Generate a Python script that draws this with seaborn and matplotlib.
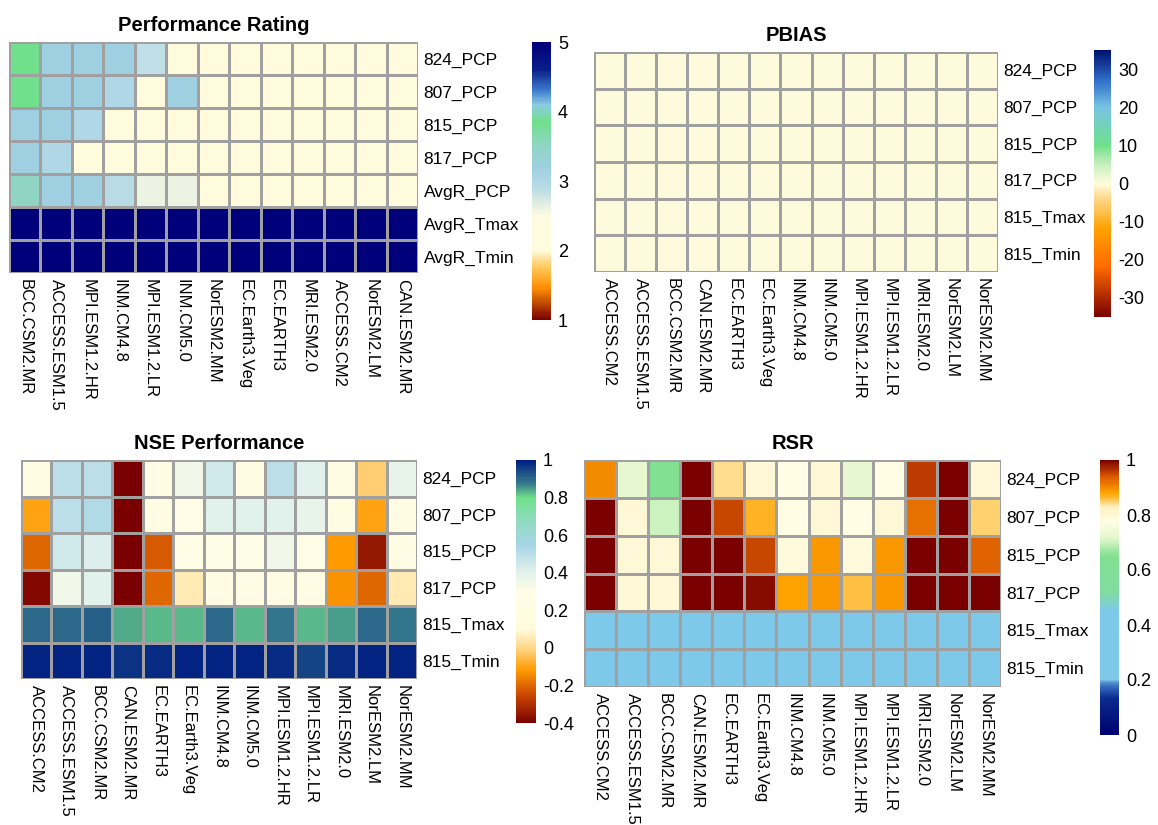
import numpy as np
import pandas as pd
import matplotlib
matplotlib.use('Agg')
import matplotlib.pyplot as plt
from matplotlib.colors import LinearSegmentedColormap
import seaborn as sns

# ---- data ----
rating_models = ['BCC.CSM2.MR', 'ACCESS.ESM1.5', 'MPI.ESM1.2.HR', 'INM.CM4.8', 'MPI.ESM1.2.LR',
                 'INM.CM5.0', 'NorESM2.MM', 'EC.Earth3.Veg', 'EC.EARTH3', 'MRI.ESM2.0',
                 'ACCESS.CM2', 'NorESM2.LM', 'CAN.ESM2.MR']
rating_rows = ['824_PCP', '807_PCP', '815_PCP', '817_PCP', 'AvgR_PCP', 'AvgR_Tmax', 'AvgR_Tmin']
rating_824 = [3.85, 3.2, 3.2, 3.2, 2.85, 2, 2, 2, 2, 2, 2, 2, 2]
rating_807 = [3.85, 3.2, 3.2, 3.0, 2, 3.2, 2, 2, 2, 2, 2, 2, 2]
rating_815 = [3.2, 3.2, 3.0, 2, 2, 2, 2, 2, 2, 2, 2, 2, 2]
rating_817 = [3.2, 3.0, 2, 2, 2, 2, 2, 2, 2, 2, 2, 2, 2]
rating_avg_pcp = [3.5, 3.2, 3.2, 2.9, 2.6, 2.6, 2, 2, 2, 2, 2, 2, 2]
rating_avg_tmax = [5, 5, 5, 5, 5, 5, 5, 5, 5, 5, 5, 5, 5]
rating_avg_tmin = [5, 5, 5, 5, 5, 5, 5, 5, 5, 5, 5, 5, 5]

models = ['ACCESS.CM2', 'ACCESS.ESM1.5', 'BCC.CSM2.MR', 'CAN.ESM2.MR', 'EC.EARTH3', 'EC.Earth3.Veg',
          'INM.CM4.8', 'INM.CM5.0', 'MPI.ESM1.2.HR', 'MPI.ESM1.2.LR', 'MRI.ESM2.0', 'NorESM2.LM',
          'NorESM2.MM']
stations = ['824_PCP', '807_PCP', '815_PCP', '817_PCP', '815_Tmax', '815_Tmin']

pbias_824 = [0.1, 0.2, 0.1, 0.0, 0.1, 0.2, 0.1, 0.0, 0.1, 0.1, 0.2, 0.0, 0.1]
pbias_807 = [0.0, 0.1, 0.1, 0.2, 0.0, 0.1, 0.1, 0.2, 0.0, 0.1, 0.1, 0.1, 0.0]
pbias_815 = [0.1, 0.0, 0.2, 0.1, 0.1, 0.0, 0.2, 0.1, 0.1, 0.0, 0.1, 0.2, 0.1]
pbias_817 = [0.2, 0.1, 0.0, 0.1, 0.2, 0.1, 0.0, 0.1, 0.2, 0.1, 0.0, 0.1, 0.2]
pbias_tmax = [0.0, 0.0, 0.1, 0.0, 0.0, 0.1, 0.0, 0.0, 0.1, 0.0, 0.0, 0.1, 0.0]
pbias_tmin = [0.1, 0.0, 0.0, 0.1, 0.0, 0.0, 0.1, 0.0, 0.0, 0.1, 0.0, 0.0, 0.1]

nse_824 = [0.25, 0.5, 0.5, -0.4, 0.25, 0.35, 0.45, 0.25, 0.5, 0.4, 0.25, -0.02, 0.38]
nse_807 = [-0.1, 0.5, 0.52, -0.4, 0.25, 0.28, 0.4, 0.4, 0.4, 0.38, 0.25, -0.1, 0.25]
nse_815 = [-0.2, 0.45, 0.42, -0.4, -0.22, 0.28, 0.3, 0.3, 0.35, 0.28, -0.12, -0.35, 0.25]
nse_817 = [-0.38, 0.35, 0.4, -0.4, -0.2, 0.05, 0.25, 0.25, 0.25, 0.25, -0.13, -0.2, 0.05]
nse_tmax = [0.9, 0.9, 0.91, 0.84, 0.83, 0.83, 0.9, 0.83, 0.88, 0.83, 0.85, 0.9, 0.88]
nse_tmin = [0.99, 0.99, 0.99, 0.97, 0.98, 0.99, 0.99, 0.99, 0.98, 0.95, 0.98, 0.99, 0.99]

rsr_824 = [0.9, 0.72, 0.65, 1.0, 0.84, 0.8, 0.78, 0.8, 0.72, 0.78, 0.96, 1.0, 0.8]
rsr_807 = [1.0, 0.8, 0.7, 1.0, 0.95, 0.87, 0.78, 0.8, 0.78, 0.8, 0.92, 1.0, 0.85]
rsr_815 = [1.0, 0.8, 0.8, 1.0, 1.0, 0.95, 0.79, 0.89, 0.79, 0.89, 1.0, 1.0, 0.93]
rsr_817 = [1.0, 0.8, 0.8, 1.0, 1.0, 0.99, 0.88, 0.89, 0.86, 0.89, 1.0, 1.0, 1.0]
rsr_tmax = [0.3] * 13
rsr_tmin = [0.3] * 13

rating_df = pd.DataFrame([rating_824, rating_807, rating_815, rating_817, rating_avg_pcp,
                          rating_avg_tmax, rating_avg_tmin], index=rating_rows, columns=rating_models)
pbias_df = pd.DataFrame([pbias_824, pbias_807, pbias_815, pbias_817, pbias_tmax, pbias_tmin],
                        index=stations, columns=models)
nse_df = pd.DataFrame([nse_824, nse_807, nse_815, nse_817, nse_tmax, nse_tmin],
                      index=stations, columns=models)
rsr_df = pd.DataFrame([rsr_824, rsr_807, rsr_815, rsr_817, rsr_tmax, rsr_tmin],
                      index=stations, columns=models)


def make_cmap(vmin, vmax, nodes):
    # nodes given in data units -> normalise to 0..1
    return LinearSegmentedColormap.from_list(
        'c', [((v - vmin) / (vmax - vmin), c) for v, c in nodes])


cream = '#fffbdc'
rating_cmap = make_cmap(1, 5, [(1, '#7a0000'), (1.45, '#ff8c00'), (1.75, '#ffc85a'), (2.0, cream),
                               (2.5, '#fffbe2'), (2.9, '#b8dbe6'), (3.2, '#9fd0e2'), (3.55, '#8ed6c0'),
                               (3.85, '#6fe08a'), (4.1, '#8ccbe2'), (4.3, '#3f7fcf'), (4.6, '#0a1f8a'),
                               (5, '#00007a')])
pbias_cmap = make_cmap(-35, 35, [(-35, '#7a0000'), (-22, '#ff6a00'), (-12, '#ffa000'),
                                 (-4, '#ffd88a'), (0, cream), (5, '#c8f0c0'), (10, '#6fe08a'),
                                 (20, '#78c4e4'), (27, '#3070c8'), (35, '#00106f')])
nse_cmap = make_cmap(-0.4, 1, [(-0.4, '#7a0000'), (-0.25, '#cc4a00'), (-0.12, '#ff9a00'),
                               (0.0, '#ffd88a'), (0.1, cream), (0.3, '#fffde6'), (0.42, '#dcefec'),
                               (0.55, '#a6d4e6'), (0.68, '#90dcc0'), (0.8, '#6fe08a'),
                               (0.88, '#34788c'), (1.0, '#001f80')])
rsr_cmap = make_cmap(0, 1, [(0, '#00006f'), (0.13, '#0a2a90'), (0.18, '#3a70c0'), (0.2, '#7ec8ea'),
                            (0.45, '#7ec8ea'), (0.52, '#80dca0'), (0.65, '#80e090'), (0.72, '#e6f8d0'),
                            (0.78, '#fffde4'), (0.83, '#fff0c0'), (0.88, '#ffa500'), (0.94, '#dd5a00'),
                            (1.0, '#7a0000')])

W, H = 1158, 825


def box(x0, y0, x1, y1):
    return [x0 / W, 1 - y1 / H, (x1 - x0) / W, (y1 - y0) / H]


plt.rcParams['font.family'] = ['Liberation Sans', 'DejaVu Sans']
fig = plt.figure(figsize=(11.58, 8.25), dpi=100)

panels = [
    (rating_df, rating_cmap, 1, 5, [1, 2, 3, 4, 5], 'Performance Rating',
     box(9, 42, 418, 273), box(532, 42, 551, 320)),
    (pbias_df, pbias_cmap, -35, 35, [-30, -20, -10, 0, 10, 20, 30], 'PBIAS',
     box(594, 52, 998, 272), box(1094, 50, 1111, 317)),
    (nse_df, nse_cmap, -0.4, 1, [-0.4, -0.2, 0, 0.2, 0.4, 0.6, 0.8, 1], 'NSE Performance',
     box(21, 460, 417, 679), box(516, 460, 536, 723)),
    (rsr_df, rsr_cmap, 0, 1, [0, 0.2, 0.4, 0.6, 0.8, 1], 'RSR',
     box(584, 460, 1001, 687), box(1100, 460, 1119, 735)),
]

for df, cmap, vmin, vmax, ticks, title, hbox, cbox in panels:
    ax = fig.add_axes(hbox)
    cax = fig.add_axes(cbox)
    sns.heatmap(df, ax=ax, cbar_ax=cax, cmap=cmap, vmin=vmin, vmax=vmax,
                linewidths=1, linecolor='#a0a0a0', square=False)
    ax.yaxis.tick_right()
    ax.set_yticklabels(df.index, rotation=0, fontsize=12.5)
    ax.set_xticklabels(df.columns, rotation=-90, fontsize=12, va='top', ha='center')
    ax.tick_params(length=0, pad=4)
    ax.set_xlabel('')
    ax.set_ylabel('')
    ax.set_title(title, fontsize=14.5, fontweight='bold', pad=8)
    cb = ax.collections[0].colorbar
    cb.set_ticks(ticks)
    cb.set_ticklabels([('%g' % t) for t in ticks])
    cb.outline.set_visible(False)
    cax.tick_params(length=0, labelsize=13, pad=5)

fig.savefig('out.png', dpi=100)
